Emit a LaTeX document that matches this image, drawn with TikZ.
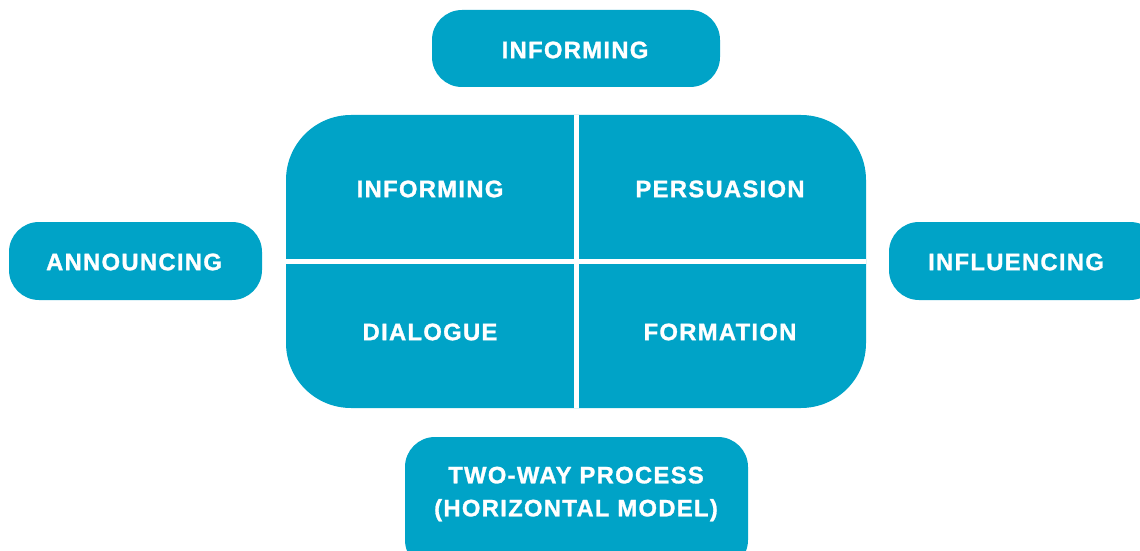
\documentclass[tikz,border=0pt]{standalone}
\usepackage{fontspec}
\setmainfont{Liberation Sans}[LetterSpace=5.5,BoldFeatures={FakeBold=1.2}]
\definecolor{teal}{RGB}{0,163,199}
\begin{document}
\begin{tikzpicture}[x=1pt,y=1pt,
  pill/.style={fill=teal, draw=none, rounded corners=30pt},
  lbl/.style={text=white, font=\bfseries\fontsize{23.8}{33}\selectfont, align=center, inner sep=0pt},
  sep/.style={draw=white, line width=5pt}]
\useasboundingbox (0,0) rectangle (1140,550);
% outer boxes
\fill[pill] (432,463) rectangle (720,540);
\node[lbl] (topinf) at (575,500) {INFORMING};
\fill[pill] (9,250) rectangle (262,328);
\node[lbl] (ann) at (134,288) {ANNOUNCING};
\fill[pill] (889,250) rectangle (1160,328);
\node[lbl] (infl) at (1016,288) {INFLUENCING};
\fill[pill] (405,-20) rectangle (748,113);
\node[lbl] (two) at (576,56) {TWO-WAY PROCESS\\(HORIZONTAL MODEL)};
% central block
\fill[teal, rounded corners=65pt] (286,142) rectangle (866,435);
\draw[sep] (576,142) -- (576,435);
\draw[sep] (286,289) -- (866,289);
\node[lbl] (qinf) at (430,361) {INFORMING};
\node[lbl] (qper) at (720,361) {PERSUASION};
\node[lbl] (qdia) at (430,218) {DIALOGUE};
\node[lbl] (qfor) at (720,218) {FORMATION};
\end{tikzpicture}
\end{document}
